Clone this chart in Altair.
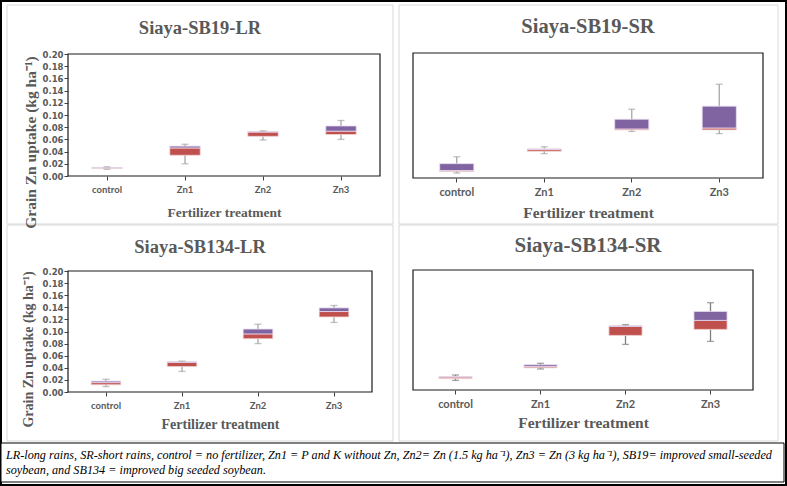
import altair as alt
import pandas as pd

# ---------------------------------------------------------------- data
TREATMENTS = ["control", "Zn1", "Zn2", "Zn3"]
PANEL_TITLES = ["Siaya-SB19-LR", "Siaya-SB19-SR", "Siaya-SB134-LR", "Siaya-SB134-SR"]

# five-number summaries of grain Zn uptake (kg/ha), one entry per treatment
SB19_LR = {
    "low":    [0.011, 0.020, 0.059, 0.060],
    "q1":     [0.0125, 0.034, 0.065, 0.068],
    "median": [0.013, 0.046, 0.072, 0.0735],
    "q3":     [0.014, 0.049, 0.073, 0.082],
    "high":   [0.015, 0.052, 0.074, 0.091],
}
SB19_SR = {
    "low":    [0.008, 0.039, 0.0745, 0.071],
    "q1":     [0.0105, 0.043, 0.077, 0.077],
    "median": [0.012, 0.046, 0.0785, 0.080],
    "q3":     [0.023, 0.0465, 0.094, 0.115],
    "high":   [0.034, 0.050, 0.110, 0.150],
}
SB134_LR = {
    "low":    [0.009, 0.034, 0.080, 0.115],
    "q1":     [0.012, 0.042, 0.088, 0.124],
    "median": [0.0155, 0.049, 0.096, 0.133],
    "q3":     [0.018, 0.050, 0.104, 0.139],
    "high":   [0.021, 0.051, 0.112, 0.143],
}
SB134_SR = {
    "low":    [0.016, 0.035, 0.076, 0.081],
    "q1":     [0.019, 0.037, 0.091, 0.101],
    "median": [0.0215, 0.039, 0.106, 0.116],
    "q3":     [0.0225, 0.042, 0.107, 0.131],
    "high":   [0.025, 0.0445, 0.109, 0.1455],
}
SUMMARIES = [SB19_LR, SB19_SR, SB134_LR, SB134_SR]

Y_TICKS = [0.00, 0.02, 0.04, 0.06, 0.08, 0.10, 0.12, 0.14, 0.16, 0.18, 0.20]
Y_LABEL = "Grain Zn uptake (kg ha\u207b\u00b9)"
X_LABEL = "Fertilizer treatment"
NOTE_LINES = [
    "LR-long rains, SR-short rains, control = no fertilizer, Zn1 = P and K without Zn, "
    "Zn2= Zn (1.5 kg ha\u207b\u00b9), Zn3 = Zn (3 kg ha\u207b\u00b9), SB19= improved small-seeded",
    "soybean, and SB134 = improved big seeded soybean.",
]

# ---------------------------------------------------------------- layout / style
W, H = 787, 486
RED, PURPLE = "#C0504D", "#8064A2"
GREY_TEXT = "#595959"
SERIF = "Liberation Serif"

LAYOUT = [
    dict(plot=(68, 380, 54, 176), box=(7, 393, 5, 224), title=(200, 28, 18.5),
         xlab=9.5, xtitle=(212, 13.5), ytitle=(30, 142, 15.5), whisker="#A6A6A6"),
    dict(plot=(413, 763, 53, 178), box=(399, 778, 5, 224), title=(588, 27, 20.5),
         xlab=11, xtitle=(212, 15.5), ytitle=None, whisker="#A6A6A6"),
    dict(plot=(68, 372, 271, 392), box=(7, 393, 225, 441), title=(200, 247, 18.5),
         xlab=9.5, xtitle=(424, 14), ytitle=(28, 349, 14), whisker="#A6A6A6"),
    dict(plot=(413, 753, 270, 390), box=(399, 778, 225, 441), title=(588, 246, 21),
         xlab=11, xtitle=(422, 15.5), ytitle=None, whisker="#7F7F7F"),
]

ONE = alt.Data(values=[{}])


def rect(x, x2, y, y2, stroke, width=1.0, fill="#FFFFFF", fill_opacity=1.0):
    return alt.Chart(ONE).mark_rect(
        stroke=stroke, strokeWidth=width, fill=fill, fillOpacity=fill_opacity
    ).encode(x=alt.value(x), x2=alt.value(x2), y=alt.value(y), y2=alt.value(y2))


def text(s, x, y, size, font=SERIF, weight="bold", style="normal", color=GREY_TEXT, align="center"):
    return alt.Chart(ONE).mark_text(
        text=s, font=font, fontSize=size, fontWeight=weight, fontStyle=style,
        color=color, align=align, baseline="middle"
    ).encode(x=alt.value(x), y=alt.value(y))


def box_panel(summary, lay):
    x0, x1, y0, y1 = lay["plot"]
    df = pd.DataFrame({"treatment": TREATMENTS, **summary})
    xs = alt.Scale(domain=TREATMENTS, range=[x0, x1], paddingInner=0, paddingOuter=0)
    ys = alt.Scale(domain=[0, 0.2], range=[y1, y0], nice=False, zero=False)

    xt_y, xt_size = lay["xtitle"]
    x_axis = alt.Axis(
        orient="bottom", offset=y1 - H, domain=False, grid=False, labelAngle=0, zindex=2,
        tickSize=4, tickColor="#404040", tickWidth=1, labelPadding=4,
        labelFont="Lato", labelFontWeight="bold", labelFontSize=lay["xlab"], labelColor=GREY_TEXT,
        title=X_LABEL, titleFont=SERIF, titleFontWeight="bold", titleFontSize=xt_size,
        titleColor=GREY_TEXT, titleX=(x0 + x1) / 2, titleY=xt_y - y1,
        titleAlign="center", titleBaseline="middle",
    )
    if lay["ytitle"]:
        yt_x, yt_y, yt_size = lay["ytitle"]
        y_axis = alt.Axis(
            orient="left", offset=-x0, values=Y_TICKS, format=".2f", domain=False, grid=False,
            zindex=2, tickSize=4, tickColor="#404040", tickWidth=1, labelPadding=1,
            labelFont="DejaVu Sans", labelFontWeight="bold", labelFontSize=8.5, labelColor=GREY_TEXT,
            title=Y_LABEL, titleFont=SERIF, titleFontWeight="bold", titleFontSize=yt_size,
            titleColor=GREY_TEXT, titleX=yt_x - x0, titleY=yt_y, titleAngle=270,
            titleAlign="center", titleBaseline="middle",
        )
    else:
        y_axis = None

    base = alt.Chart(df).encode(x=alt.X("treatment:N", scale=xs, axis=x_axis))
    yenc = lambda f: alt.Y(f, type="quantitative", scale=ys, axis=y_axis)

    whisker = base.mark_rule(color=lay["whisker"], strokeWidth=1.3).encode(
        y=yenc("low"), y2="high")
    lower = base.mark_bar(color=RED, width=alt.RelativeBandSize(0.39),
                          stroke="#F2D7D7", strokeWidth=0.8).encode(y=yenc("q1"), y2="median")
    upper = base.mark_bar(color=PURPLE, width=alt.RelativeBandSize(0.39),
                          stroke="#EADCF0", strokeWidth=0.8).encode(y=yenc("median"), y2="q3")
    cap_lo = base.mark_tick(color=lay["whisker"], size=7, thickness=1.3).encode(y=yenc("low"))
    cap_hi = base.mark_tick(color=lay["whisker"], size=7, thickness=1.3).encode(y=yenc("high"))
    return alt.layer(whisker, lower, upper, cap_lo, cap_hi)


layers = [rect(1, 786, 1, 485, "#000000", width=2, fill_opacity=1)]
for title, summary, lay in zip(PANEL_TITLES, SUMMARIES, LAYOUT):
    bx0, bx1, by0, by1 = lay["box"]
    x0, x1, y0, y1 = lay["plot"]
    layers.append(rect(bx0, bx1, by0, by1, "#D9D9D9"))
    layers.append(rect(x0, x1, y0, y1, "#1A1A1A", width=1.2, fill_opacity=0))
    layers.append(box_panel(summary, lay))
    tx, ty, ts = lay["title"]
    layers.append(text(title, tx, ty, ts))

# explanatory note under the panels
layers.append(rect(1, 784, 443, 482, "#000000", width=1))
layers.append(text(NOTE_LINES[0], 6, 455, 12.2, weight="normal", style="italic",
                   color="#000000", align="left"))
layers.append(text(NOTE_LINES[1], 6, 470, 12.2, weight="normal", style="italic",
                   color="#000000", align="left"))

chart = (
    alt.layer(*layers)
    .resolve_scale(x="independent", y="independent")
    .properties(width=W, height=H, padding=0, autosize=alt.AutoSizeParams(type="none"),
                background="#FFFFFF")
    .configure_view(strokeWidth=0)
)

chart.save("out.html", embed_options={"renderer": "svg", "actions": False})
